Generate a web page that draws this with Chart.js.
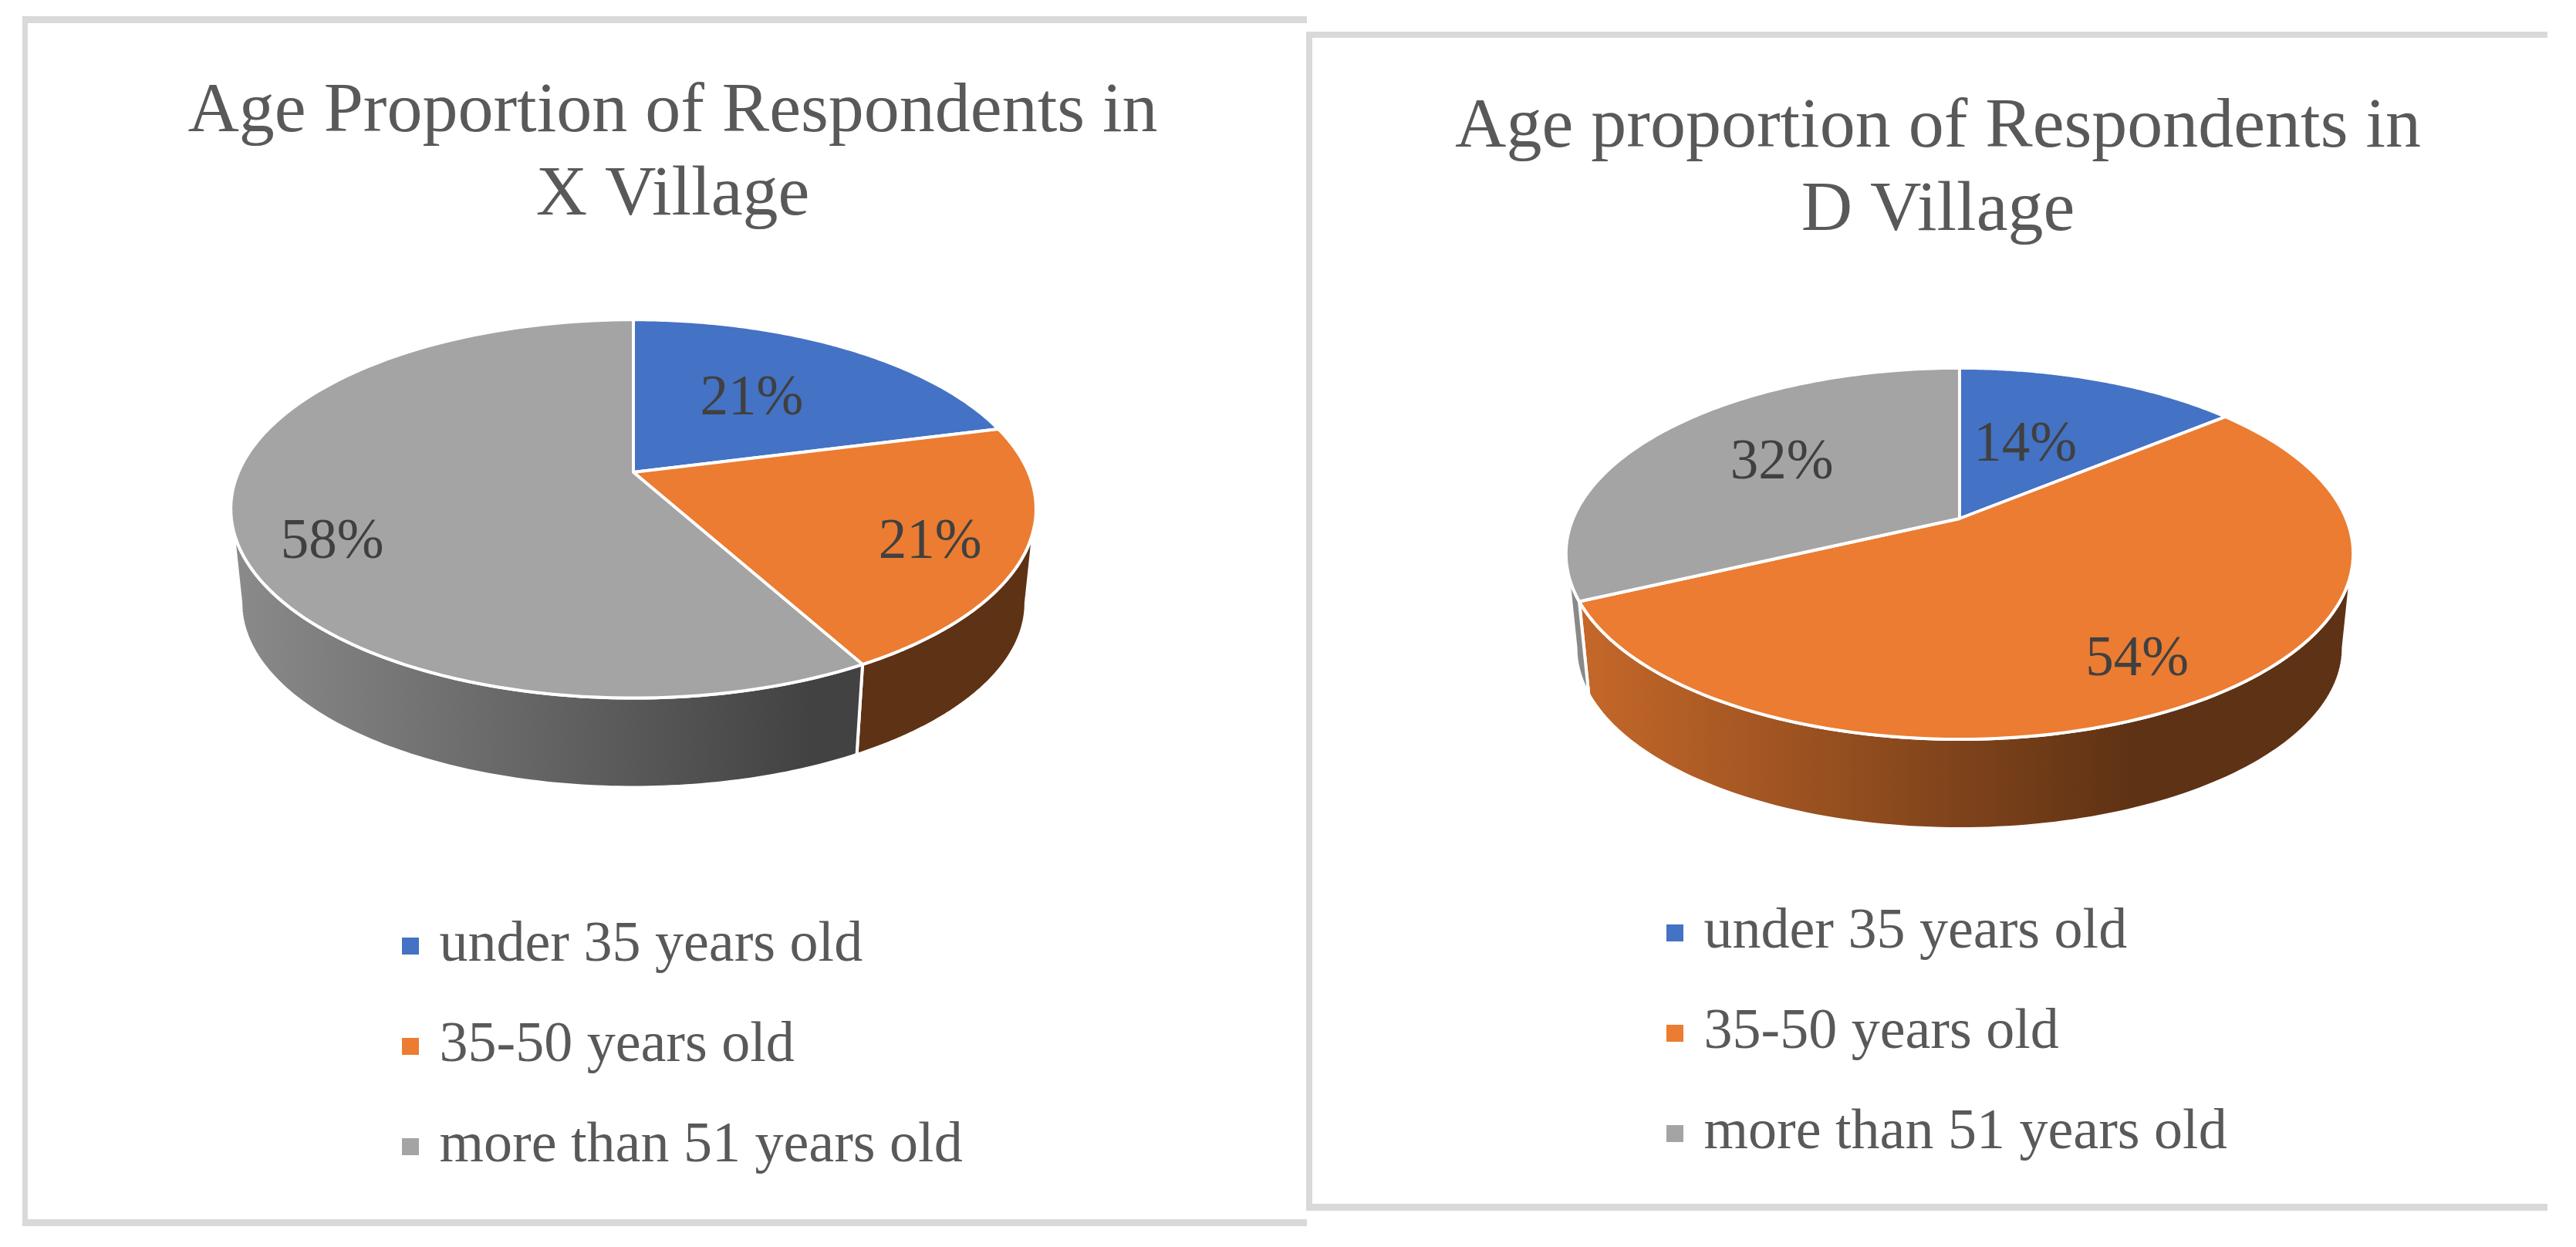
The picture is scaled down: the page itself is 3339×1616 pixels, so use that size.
<!DOCTYPE html>
<html>
<head>
<meta charset="utf-8">
<title>Age proportion of respondents</title>
<script src="https://cdn.jsdelivr.net/npm/chart.js@4"></script>
<style>
	html, body { margin: 0; padding: 0; background: #fff; }
	body { position: relative; width: 3339px; height: 1616px; overflow: hidden; }
	canvas { position: absolute; top: 0; filter: blur(0.6px); }
	.bar { position: absolute; background: #d9d9d9; }
</style>
</head>
<body>
<div class="bar" style="left:29px;top:21px;width:1665px;height:9px"></div>
<div class="bar" style="left:29px;top:21px;width:7px;height:1568px"></div>
<div class="bar" style="left:29px;top:1580px;width:1665px;height:9px"></div>
<div class="bar" style="left:1693px;top:41px;width:1609px;height:8px"></div>
<div class="bar" style="left:1693px;top:41px;width:8px;height:1528px"></div>
<div class="bar" style="left:1693px;top:1560px;width:1609px;height:9px"></div>
<canvas id="xVillage" width="1642" height="1616" style="left:0"></canvas>
<canvas id="dVillage" width="1598" height="1616" style="left:1741px"></canvas>
<script>
const ageGroups = ["under 35 years old", "35-50 years old", "more than 51 years old"];
const xVillageShares = [21, 21, 58];
const dVillageShares = [14, 54, 32];
const xVillageTitle = ["Age Proportion of Respondents in", "X Village"];
const dVillageTitle = ["Age proportion of Respondents in", "D Village"];
const sliceColors = ["#4472c4", "#eb7c31", "#a4a4a4"];

const serif = "'Liberation Serif', 'Times New Roman', serif";

function shade(hex, f) {
	const n = parseInt(hex.slice(1), 16);
	return `rgb(${((n >> 16) & 255) * f},${((n >> 8) & 255) * f},${(n & 255) * f})`;
}

// the pie is tilted, so slices go through a perspective projection of the unit circle
function projector(arc, o) {
	return (theta) => {
		const u = Math.cos(theta), v = Math.sin(theta);
		const d = 1 - o.persp * v;
		return { x: arc.x + arc.outerRadius * u / d, y: arc.y + o.ky * v / d };
	};
}

const pie3d = {
	id: "pie3d",
	afterLayout(chart, args, o) {
		chart.titleBlock.left += o.titleShift;
		chart.titleBlock.right += o.titleShift;
		chart.legend.left = o.legendLeft;
		chart.legend.top = o.legendTop;
		chart.legend.right = chart.width;
		chart.legend.bottom = chart.height;
	},
	beforeDatasetDraw(chart, args, o) {
		const ctx = chart.ctx;
		const arcs = args.meta.data;
		const first = arcs[0];
		const project = projector(first, o);
		const midY = (project(-Math.PI / 2).y + project(Math.PI / 2).y) / 2;
		const rim = (p) => ({
			x: first.x + (p.x - first.x) * o.shrink,
			y: midY + (p.y - midY) * o.shrink + o.drop,
		});
		const edge = Math.asin(o.persp);
		const steps = 120;

		ctx.save();
		ctx.lineJoin = "round";

		// side wall, only the front part of the cylinder shows
		arcs.forEach((arc) => {
			const from = Math.max(arc.startAngle, edge);
			const to = Math.min(arc.endAngle, Math.PI - edge);
			if (to <= from) return;
			const base = arc.options.backgroundColor;
			const w = arc.outerRadius * 1.02;
			const grad = ctx.createLinearGradient(first.x - w, 0, first.x + w, 0);
			grad.addColorStop(0, shade(base, 0.85));
			grad.addColorStop(0.72, shade(base, 0.4));
			grad.addColorStop(1, shade(base, 0.4));
			ctx.beginPath();
			for (let i = 0; i <= steps; i++) {
				const p = project(from + (to - from) * i / steps);
				ctx.lineTo(p.x, p.y);
			}
			for (let i = steps; i >= 0; i--) {
				const p = rim(project(from + (to - from) * i / steps));
				ctx.lineTo(p.x, p.y);
			}
			ctx.closePath();
			ctx.fillStyle = grad;
			ctx.fill();
			ctx.strokeStyle = "#fff";
			ctx.lineWidth = 4;
			ctx.stroke();
		});

		// top face
		arcs.forEach((arc) => {
			ctx.beginPath();
			ctx.moveTo(arc.x, arc.y);
			for (let i = 0; i <= steps; i++) {
				const p = project(arc.startAngle + (arc.endAngle - arc.startAngle) * i / steps);
				ctx.lineTo(p.x, p.y);
			}
			ctx.closePath();
			ctx.fillStyle = arc.options.backgroundColor;
			ctx.fill();
			ctx.strokeStyle = arc.options.borderColor;
			ctx.lineWidth = arc.options.borderWidth;
			ctx.stroke();
		});

		// value labels
		ctx.font = `73px ${serif}`;
		ctx.fillStyle = "#404040";
		ctx.textAlign = "center";
		ctx.textBaseline = "middle";
		arcs.forEach((arc, i) => {
			const mid = (arc.startAngle + arc.endAngle) / 2;
			const u = 0.6 * Math.cos(mid), v = 0.6 * Math.sin(mid);
			const d = 1 - o.persp * v;
			const value = chart.data.datasets[0].data[i];
			ctx.fillText(`${value}%`,
				arc.x + arc.outerRadius * u / d + o.labelShift[i][0],
				arc.y + o.ky * v / d + o.labelShift[i][1]);
		});
		ctx.restore();
		return false;
	},
};

function makePie(id, title, shares, settings) {
	return new Chart(document.getElementById(id), {
		type: "pie",
		data: {
			labels: ageGroups,
			datasets: [{
				data: shares,
				backgroundColor: sliceColors,
				borderColor: "#fff",
				borderWidth: 4,
				radius: settings.radius,
			}],
		},
		options: {
			responsive: false,
			animation: false,
			events: [],
			layout: { padding: { bottom: settings.bottomPad } },
			plugins: {
				tooltip: { enabled: false },
				title: {
					display: true,
					text: title,
					color: "#595959",
					font: { family: serif, size: 92, weight: "normal", lineHeight: 108 / 92 },
					padding: { top: settings.titleTop, bottom: 42 },
				},
				legend: {
					position: "chartArea",
					align: "start",
					labels: {
						color: "#595959",
						font: { family: serif, size: 74 },
						boxWidth: 1,
						boxHeight: 1,
						padding: 56,
						generateLabels: (chart) => chart.data.labels.map((text, i) => ({
							text,
							index: i,
							fillStyle: sliceColors[i],
							strokeStyle: sliceColors[i],
							lineWidth: 21,
							fontColor: "#595959",
						})),
					},
				},
				pie3d: settings.pie3d,
			},
		},
		plugins: [pie3d],
	});
}

makePie("xVillage", xVillageTitle, xVillageShares, {
	radius: 512,
	bottomPad: 742,
	titleTop: 92,
	pie3d: {
		persp: 0.1935, ky: 236, shrink: 0.975, drop: 122,
		titleShift: 51, legendLeft: 475.5, legendTop: 1133,
		labelShift: [[-19, 8], [89, 33], [-84, 56]],
	},
});

makePie("dVillage", dVillageTitle, dVillageShares, {
	radius: 501,
	bottomPad: 642,
	titleTop: 112,
	pie3d: {
		persp: 0.189, ky: 232, shrink: 0.975, drop: 122,
		titleShift: -28, legendLeft: 373.5, legendTop: 1116,
		labelShift: [[-31, 20], [52, 54], [9, -1]],
	},
});
</script>
</body>
</html>
